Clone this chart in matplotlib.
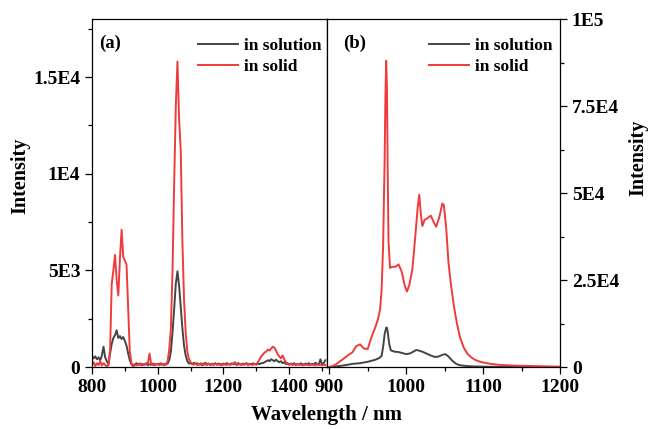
import numpy as np
import matplotlib
matplotlib.use('Agg')
import matplotlib.pyplot as plt
from matplotlib.ticker import MultipleLocator

plt.rcParams['font.family'] = 'Liberation Serif'
plt.rcParams['font.weight'] = 'bold'

GRAY = '#444444'
RED = '#ef3b3b'

# (a) emission spectra, 800-1510 nm at 5 nm steps
wl_a = np.arange(800, 1515, 5)
sol_a = [
    600, 450, 550, 400, 500, 350, 600, 1050, 500, 300,        # 800-845
    150, 700, 1200, 1500, 1650, 1900, 1500, 1600, 1450, 1550,  # 850-895
    1350, 1100, 700, 350, 150, 50, 100, 200, 120, 180,         # 900-945
    100, 150, 120, 200, 100, 150, 120, 180, 100, 150,          # 950-995
    130, 170, 120, 150, 100, 150, 180, 350, 800, 1800,         # 1000-1045
    3000, 4300, 4950, 4200, 3100, 2000, 1100, 600, 300, 180,   # 1050-1095
    200, 150, 220, 150, 200, 120, 180, 100, 160, 220,          # 1100-1145
    130, 180, 100, 170, 140, 200, 120, 180, 150, 100,          # 1150-1195
    180, 130, 200, 150, 120, 190, 140, 180, 110, 200,          # 1200-1245
    150, 120, 180, 140, 200, 110, 170, 130, 190, 150,          # 1250-1295
    120, 180, 150, 200, 200, 250, 300, 350, 300, 400,          # 1300-1345
    350, 300, 380, 300, 250, 300, 200, 250, 150, 200,          # 1350-1395
    120, 180, 140, 200, 110, 160, 130, 190, 150, 120,          # 1400-1445
    180, 140, 200, 110, 170, 130, 220, 150, 120, 400,          # 1450-1495
    150, 200, 350,                                             # 1500-1510
]
solid_a = [
    100, 250, 50, 200, 100, 300, 80, 200, 100, 50,             # 800-845
    100, 900, 4300, 5000, 5800, 4500, 3700, 5600, 7100, 5700,  # 850-895
    5500, 5300, 3000, 800, 200, 100, 150, 80, 150, 100,        # 900-945
    180, 90, 160, 120, 200, 700, 150, 100, 180, 120,           # 950-995
    150, 100, 200, 130, 170, 120, 300, 900, 2000, 5000,        # 1000-1045
    9500, 13500, 15800, 12800, 11200, 6500, 3500, 1800, 800, 400,  # 1050-1095
    250, 150, 120, 180, 100, 160, 120, 190, 110, 150,          # 1100-1145
    100, 170, 130, 150, 90, 180, 120, 140, 100, 160,           # 1150-1195
    120, 150, 100, 170, 130, 140, 180, 250, 150, 110,          # 1200-1245
    160, 100, 140, 120, 180, 100, 150, 130, 110, 160,          # 1250-1295
    150, 250, 400, 550, 650, 750, 800, 900, 850, 950,          # 1300-1345
    1050, 1000, 850, 650, 550, 450, 600, 400, 250, 150,        # 1350-1395
    120, 160, 100, 140, 90, 150, 110, 130, 80, 140,            # 1400-1445
    100, 130, 90, 150, 110, 120, 80, 140, 100, 120,            # 1450-1495
    90, 110, 100,                                              # 1500-1510
]

# (b) emission spectra, 900-1200 nm
wl_sol_b = [900, 910, 920, 930, 940, 950, 955, 960, 965, 968, 970, 972, 974,
            975, 976, 978, 980, 985, 990, 995, 1000, 1005, 1010, 1013, 1017,
            1022, 1027, 1032, 1037, 1042, 1047, 1051, 1055, 1060, 1065, 1070,
            1080, 1090, 1100, 1120, 1150, 1200]
sol_b = [0, 200, 500, 900, 1100, 1500, 1800, 2100, 2600, 3200, 5800, 9500,
         11300, 11300, 10000, 6500, 4800, 4400, 4300, 4000, 3700, 3900, 4500,
         4900, 4700, 4300, 3800, 3300, 2900, 3000, 3500, 3700, 3000, 1800, 900,
         500, 250, 150, 100, 50, 30, 0]
wl_solid_b = [900, 905, 910, 915, 920, 925, 930, 935, 940, 945, 950, 955, 960,
              963, 966, 968, 970, 972, 973, 974, 975, 976, 977, 979, 982, 986,
              990, 994, 998, 1001, 1004, 1008, 1012, 1015, 1017, 1019, 1021,
              1024, 1028, 1032, 1035, 1039, 1043, 1047, 1049, 1052, 1055, 1058,
              1062, 1066, 1070, 1075, 1080, 1085, 1090, 1095, 1100, 1110, 1120,
              1130, 1140, 1150, 1160, 1170, 1180, 1190, 1200]
solid_b = [0, 300, 1000, 1800, 2600, 3500, 4200, 6000, 6500, 5300, 5200, 8700,
           11500, 13500, 16500, 22000, 35000, 60000, 78000, 88000, 80000, 55000,
           36000, 28500, 28800, 28800, 29500, 27500, 23500, 21700, 23500, 28000,
           38000, 46000, 49500, 44000, 40500, 42300, 42800, 43500, 42000, 40300,
           43000, 47000, 46500, 40000, 30000, 24000, 17500, 12500, 8500, 5500,
           3700, 2700, 2000, 1600, 1300, 900, 650, 500, 400, 350, 300, 250, 200,
           150, 100]

xticks_a = [800, 1000, 1200, 1400]
yticks_a = [0, 5000, 10000, 15000]
ylabels_a = ['0', '5E3', '1E4', '1.5E4']
xticks_b = [1000, 1100, 1200]
xlabels_b = ['1000', '1100', '1200']
yticks_b = [0, 25000, 50000, 75000, 100000]
ylabels_b = ['0', '2.5E4', '5E4', '7.5E4', '1E5']

fig = plt.figure(figsize=(6.48, 4.29), dpi=100)
ax1 = fig.add_axes([0.142, 0.1445, 0.3626, 0.8112])
ax2 = fig.add_axes([0.5046, 0.1445, 0.3596, 0.8112])

ax1.plot(wl_a, sol_a, color=GRAY, lw=1.4, label='in solution')
ax1.plot(wl_a, solid_a, color=RED, lw=1.4, label='in solid')
ax1.set_xlim(800, 1515)
ax1.set_ylim(0, 18000)
ax1.set_xticks(xticks_a)
ax1.set_yticks(yticks_a, ylabels_a)
ax1.xaxis.set_minor_locator(MultipleLocator(100))
ax1.yaxis.set_minor_locator(MultipleLocator(2500))

ax2.plot(wl_sol_b, sol_b, color=GRAY, lw=1.4, label='in solution')
ax2.plot(wl_solid_b, solid_b, color=RED, lw=1.4, label='in solid')
ax2.set_xlim(897, 1200)
ax2.set_ylim(0, 100000)
ax2.set_xticks([900] + xticks_b, ['900'] + xlabels_b)
ax2.set_yticks(yticks_b, ylabels_b)
ax2.xaxis.set_minor_locator(MultipleLocator(50))
ax2.yaxis.set_minor_locator(MultipleLocator(12500))
ax2.yaxis.tick_right()

for ax, xanchor in ((ax1, 1.02), (ax2, 1.012)):
    for s in ax.spines.values():
        s.set_linewidth(0.9)
    ax.tick_params(which='major', direction='out', length=5, width=0.9,
                   labelsize=14)
    ax.tick_params(which='minor', direction='out', length=3, width=0.9)
    for lab in ax.get_xticklabels() + ax.get_yticklabels():
        lab.set_fontweight('bold')
    ax.legend(frameon=False, loc='upper right', fontsize=12.5,
              handlelength=2.3, handletextpad=0.35, labelspacing=0.32,
              borderaxespad=0.2, bbox_to_anchor=(xanchor, 0.977))

ax1.text(0.03, 0.955, '(a)', transform=ax1.transAxes, fontsize=13.5,
         fontweight='bold', va='top')
ax2.text(0.07, 0.955, '(b)', transform=ax2.transAxes, fontsize=13.5,
         fontweight='bold', va='top')

fig.text(0.031, 0.59, 'Intensity', rotation=90, fontsize=14.5,
         fontweight='bold', ha='center', va='center')
fig.text(0.985, 0.632, 'Intensity', rotation=90, fontsize=14.5,
         fontweight='bold', ha='center', va='center')
fig.text(0.504, 0.033, 'Wavelength / nm', fontsize=15, fontweight='bold',
         ha='center', va='center')

fig.savefig('out.png', dpi=100)
